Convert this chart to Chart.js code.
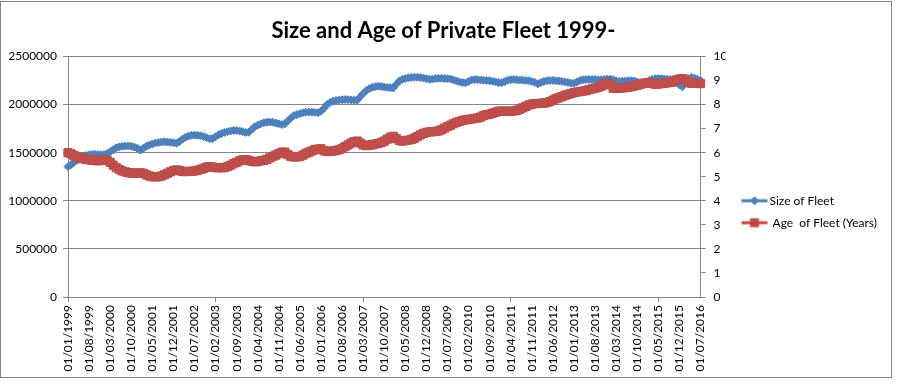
<!DOCTYPE html>
<html>
<head>
<meta charset="utf-8">
<script src="https://cdn.jsdelivr.net/npm/chart.js@4"></script>
<style>
  body { margin: 0; background: #fff; }
  #wrap { position: relative; width: 902px; height: 391px; }
  #grafico { position: absolute; left: 0; top: 0; }
  #moldura { position: absolute; left: 0; top: 1px; width: 890px; height: 375px; border: 1px solid #868686; pointer-events: none; }
</style>
</head>
<body>
<div id="wrap">
  <canvas id="grafico" width="902" height="391"></canvas>
  <div id="moldura"></div>
</div>
<script>
/* =========================
   DADOS (mensal, 01/1999 - 07/2016)
========================= */
const anoInicio = 1999;
const totalMeses = 211;

const tituloGrafico = "Size and Age of Private Fleet 1999-";
const nomeSeries = ["Size of Fleet", " Age  of Fleet (Years)"];

// tamanho da frota (veículos), um ano por linha
const tamanhoFrota = [
  1355000, 1375000, 1400000, 1420000, 1440000, 1460000, 1470000, 1478000, 1482000, 1482000, 1480000, 1478000,
  1480000, 1490000, 1510000, 1530000, 1550000, 1560000, 1566000, 1568000, 1570000, 1566000, 1558000, 1545000,
  1525000, 1545000, 1566000, 1580000, 1590000, 1600000, 1605000, 1610000, 1612000, 1610000, 1608000, 1603000,
  1598000, 1615000, 1640000, 1660000, 1672000, 1680000, 1682000, 1680000, 1676000, 1668000, 1655000, 1645000,
  1645000, 1665000, 1685000, 1700000, 1710000, 1718000, 1725000, 1730000, 1730000, 1725000, 1718000, 1710000,
  1712000, 1740000, 1770000, 1785000, 1800000, 1810000, 1815000, 1818000, 1815000, 1808000, 1800000, 1792000,
  1800000, 1830000, 1860000, 1885000, 1895000, 1905000, 1915000, 1920000, 1922000, 1920000, 1918000, 1915000,
  1930000, 1960000, 2000000, 2020000, 2035000, 2042000, 2048000, 2050000, 2052000, 2050000, 2048000, 2045000,
  2045000, 2080000, 2115000, 2145000, 2165000, 2178000, 2185000, 2190000, 2188000, 2182000, 2178000, 2175000,
  2172000, 2210000, 2245000, 2260000, 2270000, 2278000, 2282000, 2284000, 2283000, 2280000, 2275000, 2268000,
  2262000, 2265000, 2270000, 2272000, 2272000, 2270000, 2268000, 2265000, 2255000, 2245000, 2235000, 2228000,
  2225000, 2240000, 2255000, 2260000, 2258000, 2255000, 2252000, 2250000, 2248000, 2242000, 2235000, 2228000,
  2225000, 2238000, 2252000, 2258000, 2260000, 2258000, 2255000, 2252000, 2250000, 2248000, 2240000, 2230000,
  2215000, 2228000, 2240000, 2248000, 2250000, 2250000, 2248000, 2245000, 2240000, 2235000, 2228000, 2222000,
  2220000, 2235000, 2250000, 2258000, 2260000, 2260000, 2260000, 2260000, 2258000, 2258000, 2260000, 2265000,
  2262000, 2258000, 2245000, 2240000, 2242000, 2245000, 2248000, 2248000, 2245000, 2235000, 2225000, 2220000,
  2235000, 2250000, 2262000, 2268000, 2270000, 2268000, 2265000, 2262000, 2258000, 2245000, 2225000, 2205000,
  2185000, 2230000, 2268000, 2280000, 2275000, 2262000, 2250000
];

// idade média da frota (anos)
const idadeFrota = [
  6.00, 5.95, 5.88, 5.82, 5.78, 5.75, 5.72, 5.70, 5.68, 5.67, 5.66, 5.68,
  5.70, 5.68, 5.60, 5.48, 5.38, 5.30, 5.24, 5.20, 5.17, 5.15, 5.15, 5.15,
  5.16, 5.14, 5.08, 5.03, 5.00, 4.99, 5.00, 5.03, 5.08, 5.14, 5.20, 5.25,
  5.28, 5.26, 5.22, 5.21, 5.22, 5.22, 5.24, 5.27, 5.30, 5.35, 5.40, 5.42,
  5.40, 5.38, 5.37, 5.37, 5.38, 5.42, 5.48, 5.54, 5.60, 5.66, 5.70, 5.71,
  5.68, 5.64, 5.62, 5.63, 5.66, 5.68, 5.72, 5.78, 5.84, 5.90, 5.96, 6.02,
  6.02, 5.92, 5.84, 5.82, 5.82, 5.84, 5.90, 5.97, 6.02, 6.07, 6.12, 6.15,
  6.16, 6.08, 6.05, 6.05, 6.07, 6.09, 6.12, 6.18, 6.25, 6.32, 6.40, 6.46,
  6.48, 6.40, 6.32, 6.29, 6.30, 6.33, 6.36, 6.38, 6.42, 6.48, 6.56, 6.64,
  6.68, 6.58, 6.50, 6.48, 6.50, 6.52, 6.55, 6.60, 6.67, 6.74, 6.80, 6.84,
  6.86, 6.87, 6.88, 6.90, 6.95, 7.02, 7.08, 7.14, 7.20, 7.26, 7.30, 7.34,
  7.36, 7.38, 7.40, 7.42, 7.44, 7.48, 7.54, 7.58, 7.60, 7.64, 7.68, 7.72,
  7.73, 7.72, 7.72, 7.72, 7.73, 7.76, 7.80, 7.86, 7.92, 7.98, 8.02, 8.04,
  8.04, 8.05, 8.06, 8.08, 8.12, 8.18, 8.24, 8.28, 8.33, 8.38, 8.42, 8.46,
  8.49, 8.52, 8.54, 8.56, 8.58, 8.62, 8.65, 8.68, 8.72, 8.76, 8.82, 8.90,
  8.85, 8.68, 8.67, 8.68, 8.69, 8.70, 8.72, 8.74, 8.77, 8.80, 8.84, 8.88,
  8.90, 8.90, 8.88, 8.84, 8.85, 8.87, 8.88, 8.90, 8.92, 8.96, 9.02, 9.06,
  9.08, 9.04, 8.92, 8.88, 8.88, 8.88, 8.87
];

const passoRotulo = 7; // um rótulo a cada 7 meses

/* =========================
   RÓTULOS DE DATA
========================= */
const datas = [];
for (let i = 0; i < totalMeses; i++) {
  const ano = anoInicio + Math.floor(i / 12);
  const mes = String(i % 12 + 1).padStart(2, "0");
  datas.push(`01/${mes}/${ano}`);
}

/* =========================
   ÍCONES DA LEGENDA (linha + marcador)
========================= */
function iconeLegenda(cor, forma) {
  const c = document.createElement("canvas");
  c.width = 40;
  c.height = 12;
  const g = c.getContext("2d");
  g.strokeStyle = cor;
  g.lineWidth = 3;
  g.beginPath();
  g.moveTo(12, 6);
  g.lineTo(38, 6);
  g.stroke();
  g.fillStyle = cor;
  if (forma === "losango") {
    g.beginPath();
    g.moveTo(25, 1.5); g.lineTo(29.5, 6); g.lineTo(25, 10.5); g.lineTo(20.5, 6);
    g.closePath();
    g.fill();
  } else {
    g.fillRect(20.5, 1.5, 9, 9);
  }
  return c;
}

const corAzul = "#4A7EBB";
const corVermelho = "#BE4B48";
const icones = [iconeLegenda(corAzul, "losango"), iconeLegenda(corVermelho, "quadrado")];

const fonte = "Lato, 'Open Sans', sans-serif";
const cinza = "#868686";

/* =========================
   GRÁFICO
========================= */
const ctx = document.getElementById("grafico").getContext("2d");

new Chart(ctx, {
  type: "line",
  data: {
    labels: datas,
    datasets: [
      {
        label: nomeSeries[0],
        data: tamanhoFrota,
        yAxisID: "y",
        borderColor: corAzul,
        backgroundColor: "#4F81BD",
        borderWidth: 2.25,
        pointStyle: "rectRot",
        pointRadius: 4,
        pointBorderWidth: 1,
        pointBackgroundColor: "#4F81BD",
        pointBorderColor: corAzul,
        tension: 0,
        order: 1
      },
      {
        label: nomeSeries[1],
        data: idadeFrota,
        yAxisID: "y1",
        borderColor: corVermelho,
        backgroundColor: "#C0504D",
        borderWidth: 2.25,
        pointStyle: "rect",
        pointRadius: 5.8,
        pointBorderWidth: 1,
        pointBackgroundColor: "#C0504D",
        pointBorderColor: corVermelho,
        tension: 0,
        order: 0
      }
    ]
  },
  options: {
    responsive: false,
    animation: false,
    layout: { padding: { left: 0, right: 15, top: 18, bottom: 0 } },
    plugins: {
      tooltip: { enabled: false },
      title: {
        display: true,
        text: tituloGrafico,
        color: "#000",
        font: { family: fonte, size: 22, weight: "bold" },
        padding: { top: 0, bottom: 12 }
      },
      legend: {
        position: "right",
        maxWidth: 220,
        title: { display: true, text: "", font: { size: 12 }, padding: 0 },
        labels: {
          usePointStyle: true,
          pointStyleWidth: 28,
          padding: 10,
          color: "#000",
          font: { family: fonte, size: 12 },
          generateLabels(chart) {
            const itens = Chart.defaults.plugins.legend.labels.generateLabels(chart);
            itens.forEach(it => { it.pointStyle = icones[it.datasetIndex]; });
            return itens.sort((a, b) => a.datasetIndex - b.datasetIndex);
          }
        }
      }
    },
    scales: {
      x: {
        type: "category",
        offset: false,
        grid: {
          drawOnChartArea: false,
          tickLength: 5,
          color: c => (c.index % passoRotulo === 0 ? cinza : "transparent")
        },
        border: { color: cinza },
        ticks: {
          autoSkip: false,
          minRotation: 90,
          maxRotation: 90,
          padding: 3,
          color: "#000",
          font: { family: fonte, size: 12 },
          callback: (v, i) => (i % passoRotulo === 0 ? datas[i] : null)
        },
        afterFit: s => { s.height = 94; }
      },
      y: {
        position: "left",
        min: 0,
        max: 2500000,
        grid: { color: cinza, tickLength: 5 },
        border: { color: cinza },
        ticks: {
          stepSize: 500000,
          padding: 6,
          color: "#000",
          font: { family: fonte, size: 12 },
          callback: v => String(v)
        },
        afterFit: s => { s.width = 68; }
      },
      y1: {
        position: "right",
        min: 0,
        max: 10,
        grid: { drawOnChartArea: false, color: cinza, tickLength: 5 },
        border: { color: cinza },
        ticks: {
          stepSize: 1,
          padding: 8,
          color: "#000",
          font: { family: fonte, size: 12 }
        },
        afterFit: s => { s.width = 25; }
      }
    }
  }
});
</script>
</body>
</html>
